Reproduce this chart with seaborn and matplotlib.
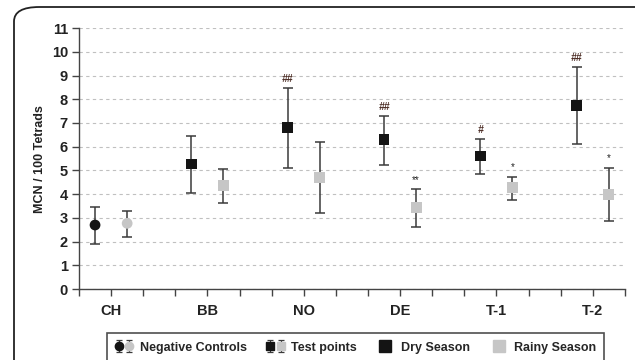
import numpy as np
import pandas as pd
import matplotlib
matplotlib.use("Agg")
import matplotlib.pyplot as plt
import seaborn as sns
from matplotlib.lines import Line2D
from matplotlib.patches import FancyBboxPatch
from matplotlib.legend_handler import HandlerTuple

# -----------------------------
# Data
# -----------------------------
sites = ["CH", "BB", "NO", "DE", "T-1", "T-2"]

dry_mean = [2.70, 5.27, 6.80, 6.29, 5.61, 7.75]
dry_low = [1.89, 4.05, 5.12, 5.23, 4.87, 6.12]
dry_high = [3.45, 6.46, 8.48, 7.30, 6.32, 9.35]

rainy_mean = [2.77, 4.35, 4.71, 3.43, 4.27, 4.00]
rainy_low = [2.18, 3.63, 3.19, 2.60, 3.74, 2.87]
rainy_high = [3.29, 5.05, 6.20, 4.20, 4.74, 5.12]

dry_marks = ["", "", "##", "##", "#", "##"]
rainy_marks = ["", "", "", "**", "*", "*"]

legend_labels = ["Negative Controls", "Test points", "Dry Season", "Rainy Season"]

DARK = "#141414"
LIGHT = "#c6c6c6"
ERR = "#3a3a3a"

sns.set_style("white")
plt.rcParams["font.family"] = ["Liberation Sans", "DejaVu Sans"]

fig = plt.figure(figsize=(6.35, 3.6), dpi=100)
ax = fig.add_axes([0.1244, 0.197, 0.8596, 0.725])

# rounded outer frame
frame = FancyBboxPatch((14 / 635, -0.2), 1.2, 0.2 + (353 / 360),
                       boxstyle="round,pad=0,rounding_size=0.04",
                       transform=fig.transFigure, fill=False,
                       edgecolor="#222222", linewidth=1.3, clip_on=False)
fig.patches.append(frame)

df = pd.DataFrame({
    "site": sites * 2,
    "season": ["Dry"] * 6 + ["Rainy"] * 6,
    "mean": dry_mean + rainy_mean,
    "low": dry_low + rainy_low,
    "high": dry_high + rainy_high,
    "mark": dry_marks + rainy_marks,
})
idx = {s: i for i, s in enumerate(sites)}
df["x"] = df["site"].map(idx) * 3 + np.where(df["season"] == "Dry", 0.5, 1.5)
df["marker"] = np.where(df["site"] == "CH", "o", "s")

# error bars
for _, r in df.iterrows():
    ax.errorbar(r["x"], r["mean"],
                yerr=[[r["mean"] - r["low"]], [r["high"] - r["mean"]]],
                fmt="none", ecolor=ERR, elinewidth=1.1, capsize=3.5,
                capthick=1.1, zorder=2)

# points
sns.scatterplot(data=df, x="x", y="mean", hue="season", style="marker",
                palette={"Dry": DARK, "Rainy": LIGHT},
                markers={"o": "o", "s": "s"}, s=60, edgecolor="none",
                legend=False, ax=ax, zorder=3)

# significance marks
for _, r in df.iterrows():
    if r["mark"]:
        is_hash = "#" in r["mark"]
        ax.annotate(r["mark"], (r["x"], r["high"]), xytext=(0, 3),
                    textcoords="offset points", ha="center", va="bottom",
                    fontsize=7.5 if is_hash else 7,
                    fontweight="bold" if is_hash else "normal",
                    fontstyle="italic" if is_hash else "normal",
                    color="#4a2a22" if is_hash else "#222222")

# axes styling
ax.set_xlim(0, 17)
ax.set_ylim(0, 11)
ax.set_yticks(range(12))
ax.xaxis.remove_overlapping_locs = False
ax.set_xticks(range(18))
ax.set_xticklabels([])
ax.set_xticks([i * 3 + 1 for i in range(len(sites))], minor=True)
ax.set_xticklabels(sites, minor=True)
ax.tick_params(axis="x", which="major", direction="out", length=5,
               width=1, color="#444444", bottom=True)
ax.tick_params(axis="x", which="minor", length=0, pad=11,
               labelsize=10.5, bottom=True, labelbottom=True)
ax.tick_params(axis="y", direction="out", length=5, width=1,
               color="#444444", left=True, labelsize=10.5, pad=3)
for lab in ax.get_xticklabels(minor=True) + ax.get_yticklabels():
    lab.set_fontweight("bold")
    lab.set_color("#222222")

ax.grid(axis="y", linestyle=(0, (3, 3)), color="#c0c0c0", linewidth=0.8)
ax.set_axisbelow(True)
for side in ["top", "right"]:
    ax.spines[side].set_visible(False)
for side in ["left", "bottom"]:
    ax.spines[side].set_color("#444444")
    ax.spines[side].set_linewidth(1)

ax.set_xlabel("")
ax.set_ylabel("MCN / 100 Tetrads", fontsize=9, fontweight="bold",
              color="#222222", labelpad=4)


# legend handles with small error bars
def icon(marker, color):
    return ax.errorbar([np.nan], [np.nan], yerr=[[0.5]], fmt=marker,
                       color=color, ecolor=ERR, markersize=6,
                       elinewidth=0.9, capsize=2, capthick=0.9)


neg = (icon("o", DARK), icon("o", LIGHT))
test = (icon("s", DARK), icon("s", LIGHT))
dry = Line2D([], [], marker="s", color=DARK, linestyle="none", markersize=9)
rainy = Line2D([], [], marker="s", color=LIGHT, linestyle="none", markersize=9)

leg = fig.legend([neg, test, dry, rainy], legend_labels,
                 handler_map={tuple: HandlerTuple(ndivide=None, pad=0.2)},
                 ncol=4, loc="upper left", bbox_to_anchor=(107 / 635, 27 / 360),
                 frameon=True, fancybox=False, edgecolor="#222222",
                 prop={"weight": "bold", "size": 9}, handlelength=1.5,
                 handleheight=1.2, handletextpad=0.5, columnspacing=1.55,
                 borderpad=0.6, borderaxespad=0)
leg.get_frame().set_linewidth(1.2)

fig.savefig("out.png", dpi=100)
